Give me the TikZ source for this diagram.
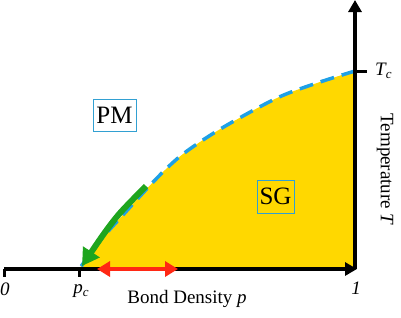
\documentclass[tikz,border=0pt]{standalone}
\usepackage{fontspec}
\setmainfont{Liberation Serif}
\usetikzlibrary{arrows.meta}
\definecolor{sgyellow}{RGB}{255,216,0}
\definecolor{lineblue}{RGB}{30,160,230}
\definecolor{boxblue}{RGB}{50,160,210}
\definecolor{arrgreen}{RGB}{30,165,30}
\definecolor{arrred}{RGB}{255,40,20}
\newcommand{\subc}[1]{{\itshape #1}\raisebox{-3.5pt}{\fontsize{13}{13}\selectfont\itshape c}}
\tikzset{
  axis/.style={line width=3.5pt,-{Triangle[length=12pt,width=13pt]}},
  tick/.style={line width=3pt},
  phasebox/.style={draw=boxblue,line width=1pt,inner sep=0pt,font=\fontsize{25}{27}\selectfont},
  lab/.style={font=\fontsize{19}{21}\selectfont,inner sep=0pt},
}
\begin{document}
\begin{tikzpicture}[x=1pt,y=-1pt]
\useasboundingbox (0,0) rectangle (401,317);
% points
\coordinate (O) at (4,269);
\coordinate (pc) at (79,269);
\coordinate (one) at (355,269);
\coordinate (top) at (355,0);
\coordinate (Tc) at (355,71);
\coordinate (xend) at (357,269);
% yellow phase region
\fill[sgyellow] plot[smooth,tension=0.5] coordinates {(79,269) (98,243) (122,216) (157,178) (183,154) (222,128) (277,98) (317,83) (355,71)} -- (355,269) -- cycle;
% dashed phase boundary
\draw[lineblue,line width=3.5pt,dash pattern=on 14pt off 8pt] plot[smooth,tension=0.5] coordinates {(355,71) (317,83) (277,98) (222,128) (183,154) (157,178) (122,216) (98,243) (80,268)};
% green arrow
\draw[arrgreen,line width=6pt,-{Triangle[length=17pt,width=19pt]}] plot[smooth,tension=0.5] coordinates {(146,186) (120,213) (103,235) (82,266)};
% axes
\draw[axis] (O) -- (xend);
\draw[axis] (one) -- (top);
\draw[tick] (O) -- ++(0,8);
\draw[tick] (pc) -- ++(0,8);
\draw[tick] (Tc) -- ++(12,0);
% red double arrow
\draw[arrred,line width=4pt,{Triangle[length=13pt,width=15pt]}-{Triangle[length=13pt,width=15pt]}] (97,269) coordinate (ra) -- (178,269) coordinate (rb);
% labels
\node[lab] (l0) at (5,289) {\itshape 0};
\node[lab] (lpc) at (81,291) {\subc{p}};
\node[lab] (l1) at (356,288) {\itshape 1};
\node[lab,anchor=west] (lTc) at (375,71) {\subc{T}};
\node[lab] (xl) at (187,299) {Bond Density \itshape p};
\node[lab,rotate=-90] (yl) at (385,169) {Temperature \itshape T};
\node[phasebox,minimum width=43pt,minimum height=32pt] (PM) at (114.5,115) {PM};
\node[phasebox,minimum width=37pt,minimum height=33pt] (SG) at (275.5,196.5) {SG};
\end{tikzpicture}
\end{document}
